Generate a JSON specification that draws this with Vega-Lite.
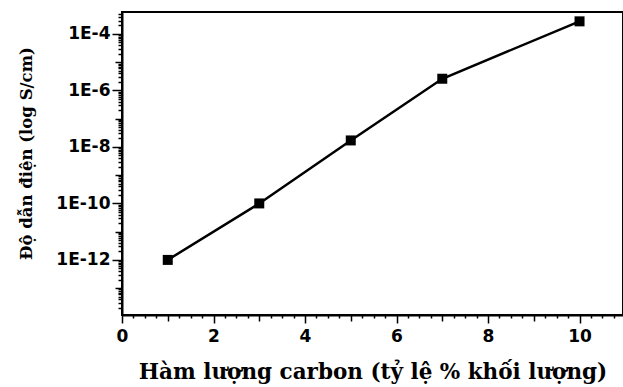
{
  "$schema": "https://vega.github.io/schema/vega-lite/v6.json",
  "autosize": "none",
  "padding": {"left": 122, "top": 12, "right": 0, "bottom": 72},
  "width": 501,
  "height": 303,
  "background": "white",
  "config": {
    "view": {"stroke": "black", "strokeWidth": 2},
    "axis": {
      "domainColor": "black",
      "domainWidth": 2,
      "tickColor": "black",
      "tickWidth": 1.5,
      "grid": false,
      "labelColor": "black",
      "titleColor": "black",
      "labelFont": "DejaVu Sans",
      "labelFontWeight": "bold",
      "labelFontSize": 17,
      "labelOverlap": false,
      "labelBound": false,
      "labelFlush": false
    }
  },
  "data": {
    "values": [
      {"carbon": 1, "conductivity": 1e-12},
      {"carbon": 3, "conductivity": 1e-10},
      {"carbon": 5, "conductivity": 1.7e-8},
      {"carbon": 7, "conductivity": 2.6e-6},
      {"carbon": 10, "conductivity": 2.8e-4}
    ]
  },
  "encoding": {
    "x": {
      "field": "carbon",
      "type": "quantitative",
      "scale": {"domain": [0, 10.95], "nice": false, "zero": false},
      "axis": {
        "title": "Hàm lượng carbon (tỷ lệ % khối lượng)",
        "titleFont": "DejaVu Serif",
        "titleFontWeight": "bold",
        "titleFontSize": 21.5,
        "titleBaseline": "alphabetic",
        "titleY": 63,
        "labelPadding": 5,
        "values": [0, 0.25, 0.5, 0.75, 1, 1.25, 1.5, 1.75, 2, 2.25, 2.5, 2.75, 3, 3.25, 3.5, 3.75, 4, 4.25, 4.5, 4.75, 5, 5.25, 5.5, 5.75, 6, 6.25, 6.5, 6.75, 7, 7.25, 7.5, 7.75, 8, 8.25, 8.5, 8.75, 9, 9.25, 9.5, 9.75, 10, 10.25, 10.5, 10.75],
        "labelExpr": "abs(datum.value - round(datum.value)) < 1e-6 && round(datum.value) % 2 == 0 ? format(datum.value, 'd') : ''",
        "tickSize": {
          "condition": [
            {"test": "abs(datum.value - round(datum.value)) < 1e-6 && round(datum.value) % 2 == 0", "value": 8},
            {"test": "abs(datum.value - round(datum.value)) < 1e-6", "value": 6}
          ],
          "value": 3
        }
      }
    },
    "y": {
      "field": "conductivity",
      "type": "quantitative",
      "scale": {"type": "log", "domain": [1.12e-14, 6e-4], "nice": false},
      "axis": {
        "title": "Độ dẫn điện (log S/cm)",
        "titleFont": "DejaVu Serif",
        "titleFontWeight": "bold",
        "titleFontSize": 16.5,
        "titleBaseline": "middle",
        "titleX": -96,
        "titleY": 141,
        "labelPadding": 2,
        "values": [2e-14, 3e-14, 4e-14, 5e-14, 6e-14, 7e-14, 8e-14, 9e-14,
          1e-13, 2e-13, 3e-13, 4e-13, 5e-13, 6e-13, 7e-13, 8e-13, 9e-13,
          1e-12, 2e-12, 3e-12, 4e-12, 5e-12, 6e-12, 7e-12, 8e-12, 9e-12,
          1e-11, 2e-11, 3e-11, 4e-11, 5e-11, 6e-11, 7e-11, 8e-11, 9e-11,
          1e-10, 2e-10, 3e-10, 4e-10, 5e-10, 6e-10, 7e-10, 8e-10, 9e-10,
          1e-9, 2e-9, 3e-9, 4e-9, 5e-9, 6e-9, 7e-9, 8e-9, 9e-9,
          1e-8, 2e-8, 3e-8, 4e-8, 5e-8, 6e-8, 7e-8, 8e-8, 9e-8,
          1e-7, 2e-7, 3e-7, 4e-7, 5e-7, 6e-7, 7e-7, 8e-7, 9e-7,
          1e-6, 2e-6, 3e-6, 4e-6, 5e-6, 6e-6, 7e-6, 8e-6, 9e-6,
          1e-5, 2e-5, 3e-5, 4e-5, 5e-5, 6e-5, 7e-5, 8e-5, 9e-5,
          1e-4, 2e-4, 3e-4, 4e-4, 5e-4],
        "labelExpr": "abs(log(datum.value)/LN10 - round(log(datum.value)/LN10)) < 1e-6 && round(log(datum.value)/LN10) % 2 == 0 ? '1E' + round(log(datum.value)/LN10) : ''",
        "tickSize": {
          "condition": [
            {"test": "abs(log(datum.value)/LN10 - round(log(datum.value)/LN10)) < 1e-6 && round(log(datum.value)/LN10) % 2 == 0", "value": 10},
            {"test": "abs(log(datum.value)/LN10 - round(log(datum.value)/LN10)) < 1e-6", "value": 7}
          ],
          "value": 4
        }
      }
    }
  },
  "layer": [
    {"mark": {"type": "line", "color": "black", "strokeWidth": 2.5}},
    {"mark": {"type": "point", "shape": "square", "filled": true, "color": "black", "opacity": 1, "size": 100}}
  ]
}
